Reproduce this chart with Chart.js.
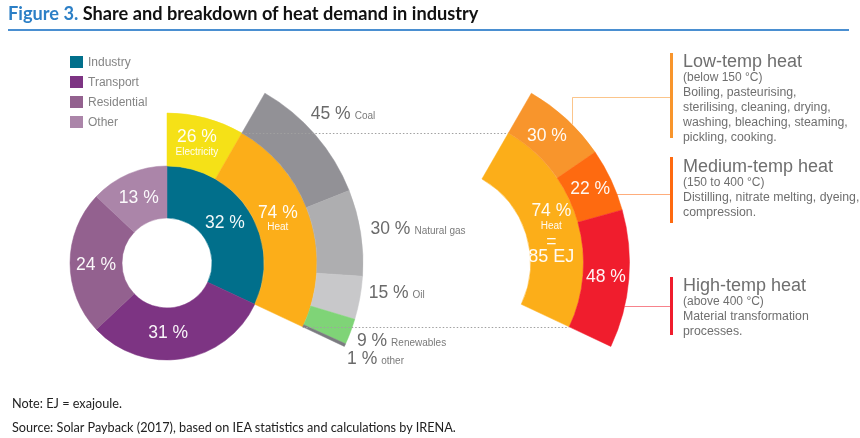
<!DOCTYPE html>
<html>
<head>
<meta charset="utf-8">
<title>Share and breakdown of heat demand in industry</title>
<script src="https://cdn.jsdelivr.net/npm/chart.js@4/dist/chart.umd.min.js"></script>
<style>
    body { margin: 0; background: #fff; }
    #fig { position: relative; width: 860px; height: 438px; overflow: hidden; font-family: "Liberation Sans", Arial, sans-serif; }
    #fig canvas { position: absolute; left: 0; top: 0; }
    #title { position: absolute; left: 8px; top: 2px; font: 700 18.2px Lato, sans-serif; color: #111; white-space: nowrap; }
    #title span { color: #2c7fc6; }
    #rule { position: absolute; left: 8px; top: 29px; width: 841px; height: 2px; background: #4a8fd1; }
    #legend { position: absolute; left: 70px; top: 52px; }
    .lg { height: 20px; display: flex; align-items: center; font-size: 12px; color: #858585; }
    .lg i { display: block; width: 13px; height: 12px; margin-right: 5px; }
    .lvl { position: absolute; left: 683px; color: #6f6f6f; white-space: nowrap; }
    .lvl .h { font-size: 18px; line-height: 18px; }
    .lvl .s { font-size: 12px; line-height: 15px; }
    .lvl .d { font-size: 12.3px; line-height: 15px; }
    .bar { position: absolute; left: 670px; width: 3px; }
    .note { position: absolute; left: 12px; font: 12.7px Lato, sans-serif; color: #222; white-space: nowrap; }
</style>
</head>
<body>
<div id="fig">
    <canvas id="leftChart" width="860" height="438"></canvas>
    <canvas id="rightChart" width="860" height="438"></canvas>
    <div id="title"><span>Figure 3.</span> Share and breakdown of heat demand in industry</div>
    <div id="rule"></div>
    <div id="legend"></div>
    <div id="levels"></div>
    <div class="note" style="top:395px">Note: EJ = exajoule.</div>
    <div class="note" style="top:419px">Source: Solar Payback (2017), based on IEA statistics and calculations by IRENA.</div>
</div>
<script>
// Final energy use by sector (%)
const sectors = ['Industry', 'Transport', 'Residential', 'Other'];
const sectorShares = [32, 31, 24, 13];

// Industry split (%)
const industryUses = ['Electricity', 'Heat'];
const industryUseShares = [26, 74];

// Industrial heat by source (%)
const heatFuels = ['Coal', 'Natural gas', 'Oil', 'Renewables', 'other'];
const heatFuelShares = [45, 30, 15, 9, 1];

// Industrial heat by temperature level (%)
const heatLevels = ['Low-temp heat', 'Medium-temp heat', 'High-temp heat'];
const heatLevelRanges = ['(below 150 °C)', '(150 to 400 °C)', '(above 400 °C)'];
const heatLevelUses = [
    ['Boiling, pasteurising,', 'sterilising, cleaning, drying,', 'washing, bleaching, steaming,', 'pickling, cooking.'],
    ['Distilling, nitrate melting, dyeing,', 'compression.'],
    ['Material transformation', 'processes.']
];
const heatLevelShares = [30, 22, 48];
const heatTotalEJ = 85;

// colours
const sectorColors = ['#016f8b', '#7d3483', '#93618f', '#ab85a9'];
const useColors = ['#f5e117', '#fcae19'];
const fuelColors = ['#929196', '#aeaeb0', '#c8c8ca', '#7fd477', '#7b7b80'];
const levelColors = ['#f8952c', '#fe6a10', '#f01d2d'];

// layout (px)
const leftCenter = { x: 167, y: 263 };
const rightCenter = { x: 433.5, y: 263 };
const R_OUTER = 196, R_RING2 = 150, R_RING1 = 97, R_HOLE = 45;
const BAR_X = 670;
const levelBoxes = [
    { top: 52, barTop: 53, barH: 85, lineY: 97, elbowX: 572 },
    { top: 157, barTop: 157, barH: 66, lineY: 194 },
    { top: 276, barTop: 277, barH: 58, lineY: 306 }
];
const fuelNudge = [[-12, -15], [0, -3], [-1, -8], [-3, 5], [-7, 9]];
const LABEL_FONT = '"Liberation Sans", Arial, sans-serif';

// angles follow the data
const sum = a => a.reduce((s, v) => s + v, 0);
const industrySweep = 360 * sectorShares[0] / sum(sectorShares);
const heatStart = industrySweep * industryUseShares[0] / sum(industryUseShares);
const heatSweep = industrySweep - heatStart;

// labels on/next to arcs
const arcLabels = {
    id: 'arcLabels',
    afterDatasetsDraw(chart) {
        const ctx = chart.ctx;
        chart.data.datasets.forEach((ds, di) => {
            if (!ds.labelLines) return;
            chart.getDatasetMeta(di).data.forEach((arc, i) => {
                const lines = ds.labelLines[i];
                if (!lines) return;
                const nudge = (ds.labelNudge && ds.labelNudge[i]) || [0, 0];
                ctx.save();
                if (ds.labelMode === 'outside') {
                    const mid = (arc.startAngle + arc.endAngle) / 2;
                    const r = arc.outerRadius + 10;
                    let x = arc.x + Math.cos(mid) * r + nudge[0];
                    const y = arc.y + Math.sin(mid) * r + nudge[1] + 6;
                    ctx.textAlign = 'left';
                    ctx.textBaseline = 'alphabetic';
                    lines.forEach(([t, size], k) => {
                        ctx.font = size + 'px ' + LABEL_FONT;
                        ctx.fillStyle = k === 0 ? '#6a6a6a' : '#7a7a7a';
                        ctx.fillText(t, x, y);
                        x += ctx.measureText(t).width + 4;
                    });
                } else {
                    const p = arc.tooltipPosition();
                    const gap = ds.labelGap || 14.5;
                    const x = p.x + nudge[0];
                    const y0 = p.y + nudge[1] - (lines.length - 1) * gap / 2;
                    ctx.textAlign = 'center';
                    ctx.textBaseline = 'middle';
                    ctx.fillStyle = 'rgba(255,255,255,0.95)';
                    lines.forEach(([t, size], k) => {
                        ctx.font = size + 'px ' + LABEL_FONT;
                        ctx.fillText(t, x, y0 + k * gap);
                    });
                }
                ctx.restore();
            });
        });
    }
};

// dotted lines from the heat slice to its breakdown
const heatBridge = {
    id: 'heatBridge',
    afterDatasetsDraw(chart) {
        const arc = chart.getDatasetMeta(1).data[1];
        const shift = rightCenter.x - leftCenter.x;
        const ctx = chart.ctx;
        ctx.save();
        ctx.strokeStyle = '#a0a0a0';
        ctx.lineWidth = 1;
        ctx.setLineDash([1.5, 2]);
        [arc.startAngle, arc.endAngle].forEach(a => {
            const x = arc.x + Math.cos(a) * arc.outerRadius;
            const y = Math.round(arc.y + Math.sin(a) * arc.outerRadius) + 0.5;
            ctx.beginPath();
            ctx.moveTo(x, y);
            ctx.lineTo(x + shift, y);
            ctx.stroke();
        });
        ctx.restore();
    }
};

// leader lines from temperature slices to their text
const levelLinks = {
    id: 'levelLinks',
    afterDatasetsDraw(chart) {
        const ctx = chart.ctx;
        const arc = chart.getDatasetMeta(0).data[0];
        const R = arc.outerRadius;
        ctx.save();
        ctx.lineWidth = 1;
        ctx.globalAlpha = 0.55;
        levelBoxes.forEach((b, i) => {
            const y = b.lineY + 0.5;
            ctx.strokeStyle = levelColors[i];
            ctx.beginPath();
            if (b.elbowX) {
                ctx.moveTo(b.elbowX + 0.5, arc.y - Math.sqrt(R * R - (b.elbowX - arc.x) ** 2));
                ctx.lineTo(b.elbowX + 0.5, y);
            } else {
                ctx.moveTo(arc.x + Math.sqrt(R * R - (b.lineY - arc.y) ** 2), y);
            }
            ctx.lineTo(BAR_X, y);
            ctx.stroke();
        });
        ctx.restore();
    }
};

const baseOptions = (center) => ({
    responsive: false,
    animation: false,
    events: [],
    radius: R_OUTER,
    layout: {
        padding: {
            left: Math.max(0, 2 * center.x - 860),
            right: Math.max(0, 860 - 2 * center.x),
            top: 2 * center.y - 438,
            bottom: 0
        }
    },
    plugins: { legend: { display: false }, tooltip: { enabled: false } }
});

// left: sectors -> industry -> heat sources
new Chart(document.getElementById('leftChart'), {
    type: 'doughnut',
    data: {
        labels: sectors,
        datasets: [{
            data: heatFuelShares,
            backgroundColor: fuelColors, borderColor: fuelColors, borderWidth: 0.5,
            rotation: heatStart, circumference: heatSweep,
            weight: R_OUTER - R_RING2,
            labelMode: 'outside',
            labelLines: heatFuelShares.map((v, i) => [[v + ' %', 17.5], [heatFuels[i], 10]]),
            labelNudge: fuelNudge
        }, {
            data: industryUseShares,
            backgroundColor: useColors, borderColor: useColors, borderWidth: 0.5,
            rotation: 0, circumference: industrySweep,
            weight: R_RING2 - R_RING1,
            labelLines: industryUseShares.map((v, i) => [[v + ' %', 17.5], [industryUses[i], 10]]),
            labelNudge: [[-2, 1], [-7, -6]]
        }, {
            data: sectorShares,
            backgroundColor: sectorColors, borderColor: sectorColors, borderWidth: 0.5,
            weight: R_RING1 - R_HOLE,
            labelLines: sectorShares.map(v => [[v + ' %', 17.5]]),
            labelNudge: [[-2, -2], [-10, 0], [0, 2], [0, 0]]
        }]
    },
    options: Object.assign(baseOptions(leftCenter), { cutout: (100 * R_HOLE / R_OUTER) + '%' }),
    plugins: [arcLabels, heatBridge]
});

// right: heat by temperature level
new Chart(document.getElementById('rightChart'), {
    type: 'doughnut',
    data: {
        labels: heatLevels,
        datasets: [{
            data: heatLevelShares,
            backgroundColor: levelColors, borderColor: levelColors, borderWidth: 0.5,
            rotation: heatStart, circumference: heatSweep,
            weight: R_OUTER - R_RING2,
            labelLines: heatLevelShares.map(v => [[v + ' %', 17.5]]),
            labelNudge: [[-4, 0], [0, 0], [0, 0]]
        }, {
            data: [industryUseShares[1]],
            backgroundColor: useColors[1], borderColor: useColors[1], borderWidth: 0.5,
            rotation: heatStart, circumference: heatSweep,
            weight: R_RING2 - R_RING1,
            labelLines: [[[industryUseShares[1] + ' %', 17.5], [industryUses[1], 10], ['=', 17.5], [heatTotalEJ + ' EJ', 18]]],
            labelGap: 15.5,
            labelNudge: [[0, 8]]
        }, {
            // full-circle, zero-width ring keeps the centre fixed
            data: [1],
            backgroundColor: 'transparent', borderWidth: 0,
            weight: 0
        }]
    },
    options: Object.assign(baseOptions(rightCenter), { cutout: (100 * R_RING1 / R_OUTER) + '%' }),
    plugins: [arcLabels, levelLinks]
});

// legend
document.getElementById('legend').innerHTML = sectors.map((s, i) =>
    `<div class="lg"><i style="background:${sectorColors[i]}"></i>${s}</div>`).join('');

// temperature level notes
const levelsEl = document.getElementById('levels');
heatLevels.forEach((name, i) => {
    const b = levelBoxes[i];
    levelsEl.insertAdjacentHTML('beforeend', `
        <div class="bar" style="top:${b.barTop}px;height:${b.barH}px;background:${levelColors[i]}"></div>
        <div class="lvl" style="top:${b.top}px">
            <div class="h">${name}</div>
            <div class="s">${heatLevelRanges[i]}</div>
            ${heatLevelUses[i].map(t => `<div class="d">${t}</div>`).join('')}
        </div>`);
});
</script>
</body>
</html>
